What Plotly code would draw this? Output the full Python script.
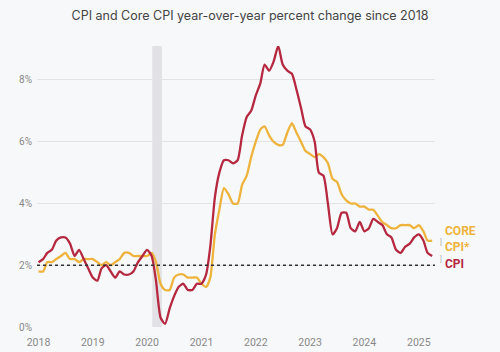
import plotly.graph_objects as go
import pandas as pd

dates = pd.date_range("2018-01-01", "2025-04-01", freq="MS")

cpi = [2.1, 2.2, 2.4, 2.5, 2.8, 2.9, 2.9, 2.7, 2.3, 2.5, 2.2, 1.9,
       1.6, 1.5, 1.9, 2.0, 1.8, 1.6, 1.8, 1.7, 1.7, 1.8, 2.1, 2.3,
       2.5, 2.3, 1.5, 0.3, 0.1, 0.6, 1.0, 1.3, 1.4, 1.2, 1.2, 1.4,
       1.4, 1.7, 2.6, 4.2, 5.0, 5.4, 5.4, 5.3, 5.4, 6.2, 6.8, 7.0,
       7.5, 7.9, 8.5, 8.3, 8.6, 9.1, 8.5, 8.3, 8.2, 7.7, 7.1, 6.5,
       6.4, 6.0, 5.0, 4.9, 4.0, 3.0, 3.2, 3.7, 3.7, 3.2, 3.1, 3.4,
       3.1, 3.2, 3.5, 3.4, 3.3, 3.0, 2.9, 2.5, 2.4, 2.6, 2.7, 2.9,
       3.0, 2.8, 2.4, 2.3]

core = [1.8, 1.8, 2.1, 2.1, 2.2, 2.3, 2.4, 2.2, 2.2, 2.1, 2.2, 2.2,
        2.2, 2.1, 2.0, 2.1, 2.0, 2.1, 2.2, 2.4, 2.4, 2.3, 2.3, 2.3,
        2.3, 2.4, 2.1, 1.4, 1.2, 1.2, 1.6, 1.7, 1.7, 1.6, 1.6, 1.6,
        1.4, 1.3, 1.6, 3.0, 3.8, 4.5, 4.3, 4.0, 4.0, 4.6, 4.9, 5.5,
        6.0, 6.4, 6.5, 6.2, 6.0, 5.9, 5.9, 6.3, 6.6, 6.3, 6.0, 5.7,
        5.6, 5.5, 5.6, 5.5, 5.3, 4.8, 4.7, 4.3, 4.1, 4.0, 4.0, 3.9,
        3.9, 3.8, 3.8, 3.6, 3.4, 3.3, 3.2, 3.2, 3.3, 3.3, 3.3, 3.2,
        3.3, 3.1, 2.8, 2.8]

y_ticks = [0, 2, 4, 6, 8]
y_labels = ["0%", "2%", "4%", "6%", "8%"]
x_ticks = [f"{y}-01-01" for y in range(2018, 2026)]
x_labels = [str(y) for y in range(2018, 2026)]

RED = "#B5283F"
GOLD = "#EEB33C"

fig = go.Figure()
fig.add_trace(go.Scatter(x=dates, y=core, mode="lines",
                         line=dict(color=GOLD, width=2.3, shape="spline", smoothing=0.6),
                         hoverinfo="skip", showlegend=False))
fig.add_trace(go.Scatter(x=dates, y=cpi, mode="lines",
                         line=dict(color=RED, width=2.3, shape="spline", smoothing=0.6),
                         hoverinfo="skip", showlegend=False))

# recession band
fig.add_shape(type="rect", xref="x", yref="paper", x0="2020-02-05", x1="2020-04-10",
              y0=0, y1=1, fillcolor="#E2E2E6", line=dict(width=0), layer="below")
# 2% target dotted line
fig.add_shape(type="line", xref="paper", yref="y", x0=0, x1=1, y0=2, y1=2,
              line=dict(color="#333333", width=1.4, dash="dot"))

fig.add_annotation(xref="paper", yref="y", x=1.02, y=2.85, xanchor="left", yanchor="middle",
                   text="<b>CORE<br>CPI*</b>", showarrow=False, align="left",
                   font=dict(family="Roboto, Arial", size=12, color=GOLD))
fig.add_annotation(xref="paper", yref="y", x=1.02, y=2.05, xanchor="left", yanchor="middle",
                   text="<b>CPI</b>", showarrow=False, align="left",
                   font=dict(family="Roboto, Arial", size=12, color=RED))
fig.add_annotation(xref="paper", yref="y", x=1.008, y=2.75, xanchor="left", yanchor="middle",
                   text="]", showarrow=False, font=dict(family="Roboto, Arial", size=7, color="#AAAAAA"))
fig.add_annotation(xref="paper", yref="y", x=1.008, y=2.2, xanchor="left", yanchor="middle",
                   text="]", showarrow=False, font=dict(family="Roboto, Arial", size=7, color="#AAAAAA"))

fig.update_layout(
    width=500, height=352,
    margin=dict(l=37, r=65, t=46, b=25),
    paper_bgcolor="#F7F8FA", plot_bgcolor="#F7F8FA",
    title=dict(text="CPI and Core CPI year-over-year percent change since 2018",
               x=0.5, xanchor="center", y=0.955, yanchor="middle",
               font=dict(family="Inter, Arial", size=12.5, color="#444444")),
    xaxis=dict(range=["2017-12-22", "2025-04-20"], tickvals=x_ticks, ticktext=x_labels,
               showgrid=False, zeroline=False, showline=False, ticks="",
               ticklabelstandoff=7, automargin=False,
               tickfont=dict(family="Roboto, Arial", size=10.5, color="#888888")),
    yaxis=dict(range=[0, 9.1], tickvals=y_ticks, ticktext=y_labels,
               showgrid=True, gridcolor="#E3E3E7", gridwidth=1, zeroline=False,
               showline=False, ticks="", ticklabelstandoff=4, automargin=False,
               tickfont=dict(family="Roboto, Arial", size=10, color="#888888")),
)

fig.write_html("out.html")
